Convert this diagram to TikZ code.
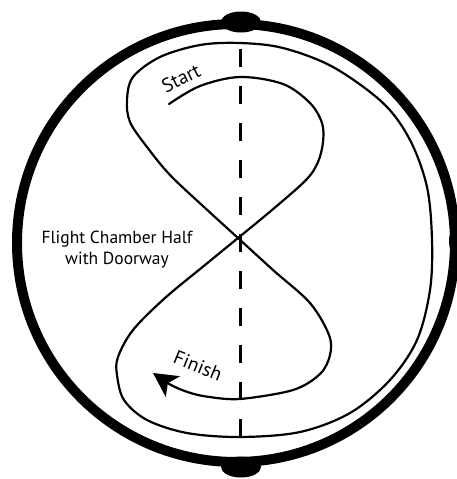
\documentclass[tikz,border=0pt]{standalone}
\usepackage{fontspec}
\setmainfont{PT Sans}
\usetikzlibrary{arrows.meta}
\tikzset{
  wall/.style={line width=10pt},
  blob/.style={fill=black},
  route/.style={line width=2.2pt, line cap=round},
  axis/.style={line width=3pt, dash pattern=on 18pt off 19pt},
  lbl/.style={font=\fontsize{17.5}{21}\selectfont, align=center, inner sep=0pt},
  tag/.style={font=\fontsize{19.5}{23}\selectfont, inner sep=0pt}
}
\begin{document}
\begin{tikzpicture}[x=1pt,y=-1pt]
\useasboundingbox (0,0) rectangle (457,479);
% chamber wall
\draw[wall] (236,243) circle[radius=219];
\fill[blob] (241,22) ellipse[x radius=20, y radius=10.5];
\fill[blob] (241,467) ellipse[x radius=20, y radius=10.5];
\fill[blob] (459,241) ellipse[x radius=10, y radius=16];
% dashed doorway axis
\draw[axis] (240,49) -- (240,442);
% flight route
\draw[route] plot[smooth, tension=0.55] coordinates {
 (169,104) (200,86) (240,77) (283,84) (310,103) (322,123) (323,142) (318,162) (306,180)
 (272,210) (238,238) (205,265) (165,298) (133,330) (118,357) (117,375) (124,400)
 (147,420) (187,433) (240,437) (300,432) (350,413) (390,380) (417,340) (430,290)
 (432,240) (427,187) (410,140) (383,103) (333,67) (283,48) (240,43) (200,45)
 (160,57) (133,77) (127,100) (130,122) (147,147) (170,175) (204,207) (238,238)
 (273,270) (310,303) (329,335) (330,355) (320,374) (293,390) (240,399) (210,397)};
\coordinate (tip) at (153,373);
\coordinate (tail) at (210,397);
\draw[route, line cap=butt, -{Stealth[length=24pt,width=25pt,inset=6pt]}]
  (tail) .. controls (190,395) and (172,386) .. (tip);
% labels
\node[tag, rotate=26] (start) at (181,78) {Start};
\node[tag, rotate=-22] (finish) at (198,366) {Finish};
\node[lbl] (chamber) at (117,250) {Flight Chamber Half\\with Doorway};
\end{tikzpicture}
\end{document}
